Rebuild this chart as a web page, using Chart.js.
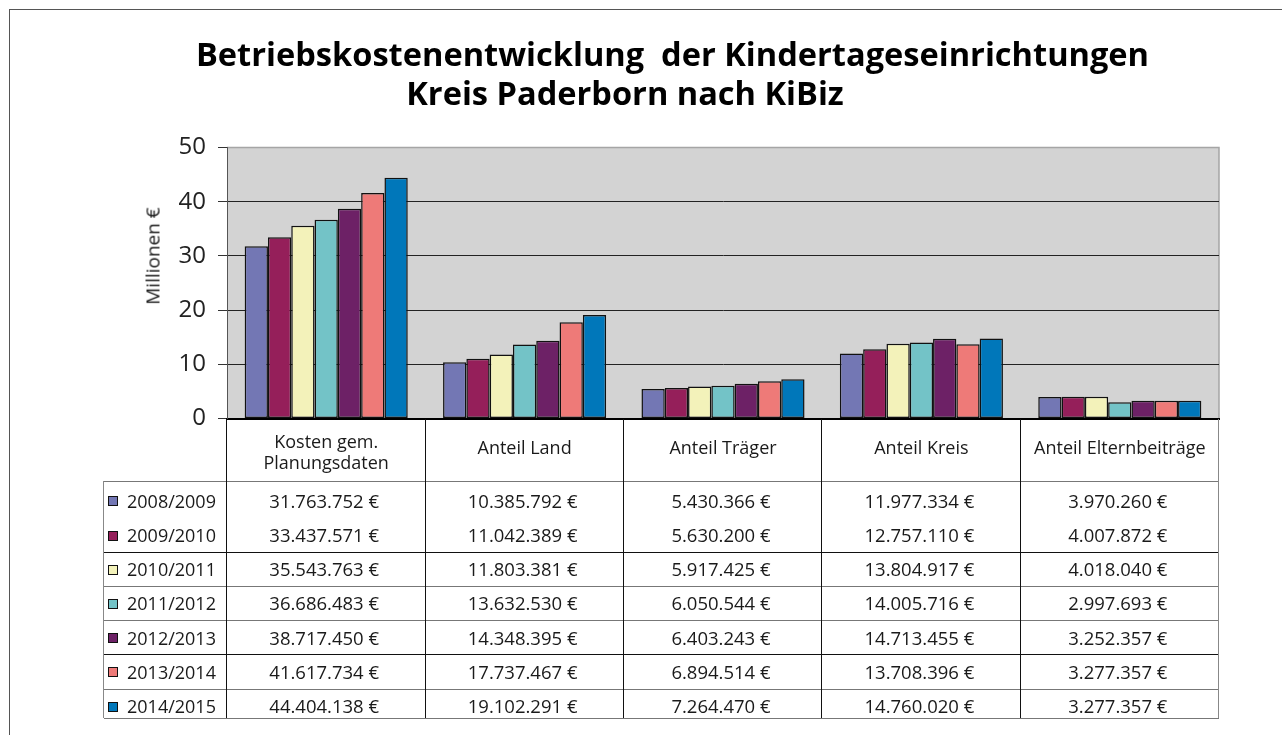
<!DOCTYPE html>
<html>
<head>
<meta charset="utf-8">
<script src="https://cdn.jsdelivr.net/npm/chart.js@4.4.0/dist/chart.umd.min.js"></script>
<style>
html,body{margin:0;padding:0;background:#fff;overflow:hidden;}
#wrap{position:relative;width:1282px;height:735px;overflow:hidden;font-family:"Open Sans","Noto Sans",sans-serif;color:#1a1a1a;}
#frame{position:absolute;left:9px;top:9px;width:1400px;height:900px;border:1px solid #555;box-sizing:border-box;}
canvas{position:absolute;left:0;top:0;}
.t{position:absolute;white-space:nowrap;line-height:1;}
.title{font-weight:bold;font-size:32.6px;color:#000;transform:translateX(-50%);}
.ylab{font-size:19px;transform:translate(-50%,-50%) rotate(-90deg);}
.hdr{font-size:18px;text-align:center;line-height:21px;transform:translate(-50%,-50%);}
.val{font-size:18.5px;transform:translate(-50%,-50%);}
.leg{font-size:18px;transform:translateY(-50%);}
.sw{position:absolute;width:10px;height:10px;border:1.5px solid #111;box-sizing:border-box;}
.hl{position:absolute;height:0;}
.vl{position:absolute;width:0;}
</style>
</head>
<body>
<div id="wrap">
  <div id="frame"></div>
  <canvas id="c" width="1282" height="735"></canvas>
  <div class="t title" style="left:672.5px;top:38px;">Betriebskostenentwicklung&nbsp;&nbsp;der Kindertageseinrichtungen</div>
  <div class="t title" style="left:625px;top:77px;">Kreis Paderborn nach KiBiz</div>
  <div class="t ylab" style="left:153px;top:256px;">Millionen €</div>
  <div id="table"></div>
</div>
<script>
// ---- data ----
const categories = [['Kosten gem.', 'Planungsdaten'], 'Anteil Land', 'Anteil Träger', 'Anteil Kreis', 'Anteil Elternbeiträge'];
const seriesLabels = ['2008/2009', '2009/2010', '2010/2011', '2011/2012', '2012/2013', '2013/2014', '2014/2015'];
const v2008 = [31763752, 10385792, 5430366, 11977334, 3970260];
const v2009 = [33437571, 11042389, 5630200, 12757110, 4007872];
const v2010 = [35543763, 11803381, 5917425, 13804917, 4018040];
const v2011 = [36686483, 13632530, 6050544, 14005716, 2997693];
const v2012 = [38717450, 14348395, 6403243, 14713455, 3252357];
const v2013 = [41617734, 17737467, 6894514, 13708396, 3277357];
const v2014 = [44404138, 19102291, 7264470, 14760020, 3277357];
const yTicks = [0, 10, 20, 30, 40, 50];

const seriesValues = [v2008, v2009, v2010, v2011, v2012, v2013, v2014];
const seriesColors = ['#7377B4', '#951F5A', '#F3F2BA', '#73C3C7', '#6D2166', '#EE7A78', '#0077BA'];

function fmtEuro(n) {
  return String(n).replace(/\B(?=(\d{3})+(?!\d))/g, '.') + ' €';
}

const bgPlugin = {
  id: 'bg',
  beforeDraw(chart) {
    const { ctx, chartArea: a } = chart;
    ctx.save();
    ctx.fillStyle = '#D3D3D3';
    ctx.fillRect(a.left, a.top, a.right - a.left, a.bottom - a.top);
    ctx.strokeStyle = '#A5A5A5';
    ctx.lineWidth = 1.5;
    ctx.beginPath();
    ctx.moveTo(a.left, a.top);
    ctx.lineTo(a.right, a.top);
    ctx.lineTo(a.right, a.bottom);
    ctx.stroke();
    ctx.restore();
  }
};

const chart = new Chart(document.getElementById('c'), {
  type: 'bar',
  data: {
    labels: categories.map(c => Array.isArray(c) ? c.join(' ') : c),
    datasets: seriesLabels.map((lab, i) => ({
      label: lab,
      data: seriesValues[i].map(v => v / 1e6),
      backgroundColor: seriesColors[i],
      borderColor: '#111',
      borderWidth: 1.5,
      borderSkipped: false,
      categoryPercentage: 0.822,
      barPercentage: 1.0
    }))
  },
  options: {
    responsive: false,
    animation: false,
    events: [],
    layout: { padding: { left: 0, right: 63, top: 147.5, bottom: 316.5 } },
    plugins: { legend: { display: false }, tooltip: { enabled: false } },
    scales: {
      x: {
        offset: true,
        ticks: { display: false },
        grid: { display: false },
        border: { display: true, color: '#000', width: 2 },
        afterFit: s => { s.height = 0; }
      },
      y: {
        min: yTicks[0],
        max: yTicks[yTicks.length - 1],
        afterBuildTicks: s => { s.ticks = yTicks.map(v => ({ value: v })); },
        ticks: { font: { family: '"Open Sans","Noto Sans",sans-serif', size: 24 }, color: '#222', padding: 12 },
        grid: {
          color: c => c.tick && c.tick.value === 50 ? '#A5A5A5' : (c.tick && c.tick.value === 0 ? '#000' : '#222'),
          tickColor: '#333',
          lineWidth: 1,
          tickLength: 9
        },
        border: { display: true, color: '#555', width: 1 },
        afterFit: s => { s.width = 227; }
      }
    }
  },
  plugins: [bgPlugin]
});

// ---- data table ----
(function buildTable() {
  const tb = document.getElementById('table');
  const xs = chart.scales.x;
  const a = chart.chartArea;
  const catW = (a.right - a.left) / categories.length;
  const legLeft = 104;
  const headTop = a.bottom;
  const headBottom = 481;
  const rowCenters = [500.7, 535, 569, 603.3, 637.6, 671.9, 706];
  const rowLines = [
    { y: 481, c: '#777' }, { y: 552, c: '#111' }, { y: 586, c: '#777' }, { y: 620, c: '#777' },
    { y: 654, c: '#111' }, { y: 689, c: '#777' }, { y: 718, c: '#777' }
  ];
  function add(html) { tb.insertAdjacentHTML('beforeend', html); }
  rowLines.forEach(l => {
    add(`<div class="hl" style="left:${legLeft}px;top:${l.y}px;width:${a.right - legLeft}px;border-top:1.5px solid ${l.c};"></div>`);
  });
  for (let k = 0; k <= categories.length; k++) {
    const x = a.left + k * catW;
    const col = k === categories.length ? '#888' : '#111';
    add(`<div class="vl" style="left:${x - 0.75}px;top:${headTop}px;height:${718 - headTop}px;border-left:1.5px solid ${col};"></div>`);
  }
  add(`<div class="vl" style="left:${legLeft - 0.75}px;top:${headBottom}px;height:${718 - headBottom}px;border-left:1.5px solid #888;"></div>`);
  categories.forEach((c, i) => {
    const cx = xs.getPixelForValue(i);
    if (Array.isArray(c)) {
      add(`<div class="t hdr" style="left:${cx}px;top:452px;">${c.join('<br>')}</div>`);
    } else {
      add(`<div class="t hdr" style="left:${cx}px;top:447px;">${c}</div>`);
    }
  });
  seriesLabels.forEach((lab, r) => {
    const y = rowCenters[r];
    add(`<div class="sw" style="left:108px;top:${y - 4.5}px;background:${seriesColors[r]};"></div>`);
    add(`<div class="t leg" style="left:127px;top:${y}px;">${lab}</div>`);
    seriesValues[r].forEach((v, i) => {
      const cx = xs.getPixelForValue(i);
      add(`<div class="t val" style="left:${cx - 2}px;top:${y}px;">${fmtEuro(v)}</div>`);
    });
  });
})();
</script>
</body>
</html>
